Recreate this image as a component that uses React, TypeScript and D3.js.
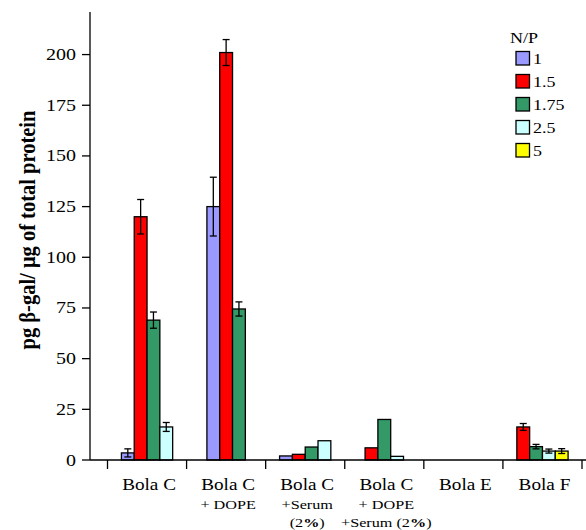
import React from 'react';
import * as d3 from 'd3';

const groups = ['Bola C', 'Bola C + DOPE', 'Bola C +Serum (2%)', 'Bola C + DOPE +Serum (2%)', 'Bola E', 'Bola F'];
const groupLines = [
  ['Bola C'],
  ['Bola C', '+ DOPE'],
  ['Bola C', '+Serum', '(2%)'],
  ['Bola C', '+ DOPE', '+Serum (2%)'],
  ['Bola E'],
  ['Bola F'],
];
const seriesNames = ['1', '1.5', '1.75', '2.5', '5'];
const seriesColors = ['#9999ff', '#ff0000', '#339966', '#ccffff', '#ffff00'];

// null = no bar
const np1 = [3.5, 125, 2, null, null, null];
const np15 = [120, 201, 2.8, 6, null, 16.3];
const np175 = [69, 74.5, 6.4, 20, null, 6.6];
const np25 = [16.3, null, 9.5, 1.8, null, 4.4];
const np5 = [null, null, null, null, null, 4.4];

const err1 = [2, 14.5, null, null, null, null];
const err15 = [8.5, 6.4, null, null, null, 1.7];
const err175 = [4, 3.5, null, null, null, 1.1];
const err25 = [2.2, null, null, null, null, 1];
const err5 = [null, null, null, null, null, 1.2];

const yTicks = [0, 25, 50, 75, 100, 125, 150, 175, 200];

const values = [np1, np15, np175, np25, np5];
const errors = [err1, err15, err175, err25, err5];

const SX = 1.2; // source text looks horizontally stretched
const font = '"Liberation Serif", "Times New Roman", serif';

export default function App() {
  const width = 586;
  const height = 530;

  const x = d3.scaleBand().domain(groups).range([107.5, 582]);
  const y = d3.scaleLinear().domain([0, 221]).range([460, 12]);
  const barW = x.bandwidth() * 0.162;

  const bars = groups.flatMap((g, gi) => {
    const present = seriesNames.map((s, si) => si).filter((si) => values[si][gi] != null);
    const cx = (x(g) as number) + x.bandwidth() / 2;
    const start = cx - (present.length * barW) / 2;
    return present.map((si, k) => ({
      key: `${gi}-${si}`,
      x0: start + k * barW,
      v: values[si][gi] as number,
      e: errors[si][gi],
      color: seriesColors[si],
    }));
  });

  const stretched = (tx: number, ty: number, sx = SX) => `translate(${tx},${ty}) scale(${sx},1)`;

  return (
    <svg width={width} height={height} style={{ position: 'absolute', left: 0, top: 0, background: '#fff' }} fontFamily={font}>
      {bars.map((b) => (
        <g key={b.key}>
          <rect x={b.x0} y={y(b.v)} width={barW} height={y(0) - y(b.v)} fill={b.color} stroke="#000" strokeWidth={1.3} />
          {b.e != null && (
            <g stroke="#000" strokeWidth={1.3}>
              <line x1={b.x0 + barW / 2} x2={b.x0 + barW / 2} y1={y(b.v + b.e)} y2={y(b.v - b.e)} />
              <line x1={b.x0 + barW / 2 - 3.5} x2={b.x0 + barW / 2 + 3.5} y1={y(b.v + b.e)} y2={y(b.v + b.e)} />
              <line x1={b.x0 + barW / 2 - 3.5} x2={b.x0 + barW / 2 + 3.5} y1={y(b.v - b.e)} y2={y(b.v - b.e)} />
            </g>
          )}
        </g>
      ))}

      {/* axes */}
      <line x1={90} x2={90} y1={y.range()[1]} y2={y(0)} stroke="#000" strokeWidth={1.3} />
      <line x1={90} x2={586} y1={y(0)} y2={y(0)} stroke="#000" strokeWidth={1.3} />
      {yTicks.map((t) => (
        <g key={t}>
          <line x1={82} x2={90} y1={y(t)} y2={y(t)} stroke="#000" strokeWidth={1.3} />
          <text transform={stretched(76, y(t) + 5.5, 1.25)} textAnchor="end" fontSize={16}>{t}</text>
        </g>
      ))}
      {groups.map((g) => (
        <line key={g} x1={x(g)} x2={x(g)} y1={y(0)} y2={y(0) + 9} stroke="#000" strokeWidth={1.3} />
      ))}
      <line x1={x.range()[1]} x2={x.range()[1]} y1={y(0)} y2={y(0) + 9} stroke="#000" strokeWidth={1.3} />

      {groupLines.map((lines, gi) => {
        const cx = (x(groups[gi]) as number) + x.bandwidth() / 2;
        return lines.map((ln, li) => (
          <text key={`${gi}-${li}`} transform={stretched(cx + 2, 490 + li * 18.5)} textAnchor="middle" fontSize={li === 0 ? 16 : 13.5}>
            {ln.includes('%') ? (
              <>
                {ln.split('%')[0]}
                <tspan fontWeight="bold">%</tspan>
                {ln.split('%')[1]}
              </>
            ) : ln}
          </text>
        ));
      })}

      <text transform={`translate(35,230) scale(1.15,1) rotate(-90)`} textAnchor="middle" fontSize={20.5} fontWeight="bold">
        pg β-gal/ μg of total protein
      </text>

      {/* legend */}
      <text transform={stretched(510, 43)} fontSize={15}>N/P</text>
      {seriesNames.map((s, i) => (
        <g key={s} transform={`translate(516,${51.5 + i * 23})`}>
          <rect width={13.5} height={13.5} fill={seriesColors[i]} stroke="#000" strokeWidth={1.3} />
          <text transform={stretched(17, 12.5)} fontSize={15}>{s}</text>
        </g>
      ))}
    </svg>
  );
}
